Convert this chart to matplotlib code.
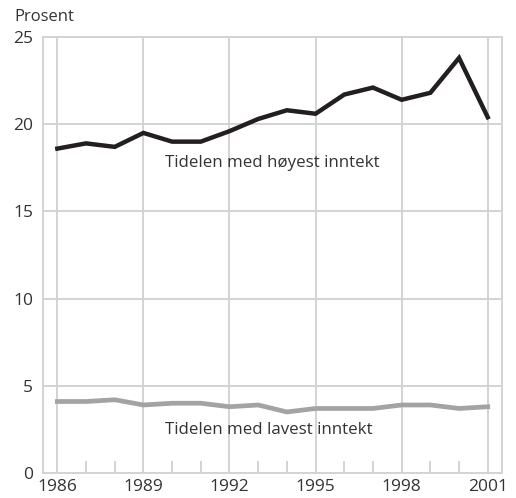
import numpy as np
import matplotlib
matplotlib.use("Agg")
import matplotlib.pyplot as plt

plt.rcParams['font.family'] = ['Open Sans', 'DejaVu Sans']

years = list(range(1986, 2002))
hoyest = [18.6, 18.9, 18.7, 19.5, 19.0, 19.0, 19.6, 20.3, 20.8, 20.6,
          21.7, 22.1, 21.4, 21.8, 23.8, 20.4]
lavest = [4.1, 4.1, 4.2, 3.9, 4.0, 4.0, 3.8, 3.9, 3.5, 3.7,
          3.7, 3.7, 3.9, 3.9, 3.7, 3.8]
major_years = [1986, 1989, 1992, 1995, 1998, 2001]
y_ticks = [0, 5, 10, 15, 20, 25]

grid_col = '#d3d3d3'
text_col = '#333333'

fig = plt.figure(figsize=(5.16, 4.98), dpi=100)
ax = fig.add_axes([0.0833, 0.0502, 0.8897, 0.8755])

ax.plot(years, hoyest, color='#231f20', lw=3.2, solid_joinstyle='miter', zorder=3)
ax.plot(years, lavest, color='#a3a3a3', lw=3.4, zorder=3)

ax.set_xlim(1985.5, 2001.5)
ax.set_ylim(0, 25)

ax.set_xticks(major_years)
ax.set_xticks(years, minor=True)
ax.set_yticks(y_ticks)

for y in y_ticks[1:]:
    ax.axhline(y, color=grid_col, lw=1.4, zorder=1)
for x in major_years:
    ax.axvline(x, color=grid_col, lw=1.4, zorder=1)

for s in ax.spines.values():
    s.set_color(grid_col)
    s.set_linewidth(1.4)

ax.tick_params(axis='x', which='both', direction='in', color=grid_col, width=1.4,
               labelsize=12.5, labelcolor=text_col, pad=4)
ax.tick_params(axis='x', which='major', length=0)
ax.tick_params(axis='x', which='minor', length=9)
ax.tick_params(axis='y', length=0, labelsize=12.5, labelcolor=text_col, pad=7)

ax.text(1989.75, 17.8, 'Tidelen med høyest inntekt', fontsize=12.2, color=text_col,
        va='center', ha='left', zorder=4)
ax.text(1989.75, 2.45, 'Tidelen med lavest inntekt', fontsize=12.2, color=text_col,
        va='center', ha='left', zorder=4)

fig.text(14 / 516, 1 - 17 / 498, 'Prosent', fontsize=12, color=text_col,
         va='center', ha='left')

fig.savefig('out.png', dpi=100)
